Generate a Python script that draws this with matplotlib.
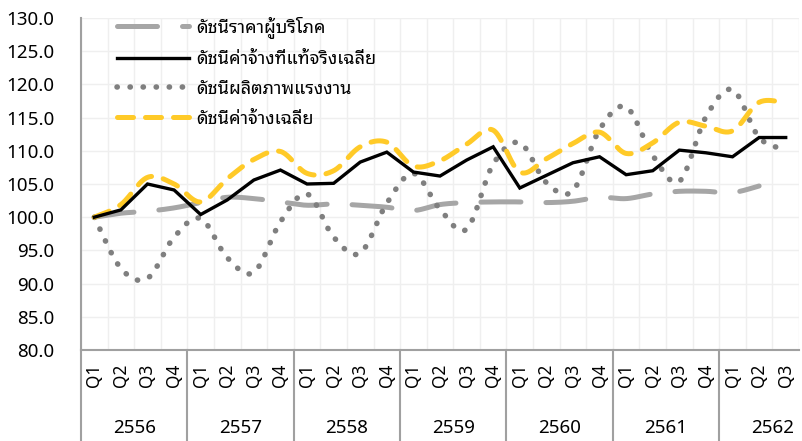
import numpy as np
import matplotlib
matplotlib.use("Agg")
import matplotlib.pyplot as plt
from matplotlib import font_manager
from matplotlib.ft2font import FT2Font
import matplotlib.transforms as mtransforms

# ---------------- data ----------------
years = ["2556", "2557", "2558", "2559", "2560", "2561", "2562"]
quarters = ["Q1", "Q2", "Q3", "Q4"] * 6 + ["Q1", "Q2", "Q3"]

cpi = [100.0, 100.6, 100.9, 101.4, 102.2, 103.0, 102.8, 102.3,
       101.8, 102.0, 101.8, 101.5, 101.0, 101.9, 102.2, 102.3,
       102.3, 102.2, 102.4, 103.0, 102.8, 103.5, 103.9, 103.9,
       103.7, 104.7]
real_wage = [100.0, 101.1, 105.0, 104.1, 100.4, 102.6, 105.6, 107.1,
             105.0, 105.1, 108.3, 109.8, 106.8, 106.2, 108.6, 110.6,
             104.4, 106.3, 108.2, 109.1, 106.4, 107.0, 110.1, 109.7,
             109.1, 112.0, 112.0]
productivity = [100.0, 92.3, 90.8, 97.0, 99.8, 93.9, 91.7, 99.3,
                103.5, 97.0, 94.6, 102.1, 106.6, 101.2, 98.2, 108.0,
                111.2, 105.2, 104.0, 113.2, 116.6, 109.3, 105.4, 115.1,
                119.2, 112.0, 110.2]
avg_wage = [100.0, 101.9, 106.0, 105.0, 102.3, 105.8, 108.7, 109.9,
            106.6, 107.0, 110.6, 111.3, 107.7, 108.5, 111.0, 113.1,
            106.8, 108.8, 111.1, 112.8, 109.6, 111.2, 114.3, 113.7,
            113.0, 117.3, 117.2]

labels = ["ดัชนีราคาผู้บริโภค", "ดัชนีค่าจ้างที่แท้จริงเฉลี่ย",
          "ดัชนีผลิตภาพแรงงาน", "ดัชนีค่าจ้างเฉลี่ย"]

yticks = [80, 85, 90, 95, 100, 105, 110, 115, 120, 125, 130]

# ---------------- fonts ----------------
def find_thai_font():
    prefs = ["Noto Sans Thai Looped", "Noto Sans Thai UI", "Noto Sans Thai",
             "Tahoma", "Leelawadee UI", "Loma", "Garuda", "Waree",
             "Umpush", "Sawasdee", "Kinnari", "Norasi", "Tlwg Typo"]
    found = {}
    seen = set()
    for f in font_manager.fontManager.ttflist:
        if f.fname in seen:
            continue
        seen.add(f.fname)
        try:
            cmap = FT2Font(f.fname).get_charmap()
        except Exception:
            continue
        if 0x0E14 in cmap and 0x0E35 in cmap and 0x0E49 in cmap:
            found.setdefault(f.name, f.fname)
    for p in prefs:
        if p in found:
            return p
    if found:
        return sorted(found)[0]
    return None

thai = find_thai_font()
fams = ([thai] if thai else []) + ["DejaVu Sans"]
plt.rcParams["font.family"] = fams

# ---------------- smoothing (Bezier like Excel smoothed lines) ----------------
def smooth(xs, ys, n=24):
    xs = np.asarray(xs, float)
    ys = np.asarray(ys, float)
    px = np.concatenate([[xs[0]], xs, [xs[-1]]])
    py = np.concatenate([[ys[0]], ys, [ys[-1]]])
    outx, outy = [], []
    t = np.linspace(0, 1, n, endpoint=False)
    for i in range(1, len(px) - 2):
        p0x, p1x, p2x, p3x = px[i - 1], px[i], px[i + 1], px[i + 2]
        p0y, p1y, p2y, p3y = py[i - 1], py[i], py[i + 1], py[i + 2]
        c1x = p1x + (p2x - p0x) / 6.0
        c1y = p1y + (p2y - p0y) / 6.0
        c2x = p2x - (p3x - p1x) / 6.0
        c2y = p2y - (p3y - p1y) / 6.0
        bx = ((1 - t) ** 3) * p1x + 3 * ((1 - t) ** 2) * t * c1x + 3 * (1 - t) * t ** 2 * c2x + t ** 3 * p2x
        by = ((1 - t) ** 3) * p1y + 3 * ((1 - t) ** 2) * t * c1y + 3 * (1 - t) * t ** 2 * c2y + t ** 3 * p2y
        outx.extend(bx)
        outy.extend(by)
    outx.append(xs[-1])
    outy.append(ys[-1])
    return np.array(outx), np.array(outy)

# ---------------- figure ----------------
W, H = 803, 441
fig = plt.figure(figsize=(W / 100, H / 100), dpi=100)
ax = fig.add_axes([81 / W, 1 - 350 / H, 718 / W, 332 / H])

n = len(quarters)
x = np.arange(n)

grey_line = "#A6A6A6"
dot_col = "#7F7F7F"
yellow = "#FFCA28"

sx, sy = smooth(np.arange(len(cpi)), cpi)
l1, = ax.plot(sx, sy, color=grey_line, lw=3.6, solid_capstyle="round",
              dash_capstyle="round", dashes=(8, 5), label=labels[0], zorder=3)
l2, = ax.plot(x, real_wage, color="black", lw=2.4, label=labels[1],
              solid_joinstyle="miter", zorder=5)
sx, sy = smooth(x, productivity)
l3, = ax.plot(sx, sy, color=dot_col, lw=4.0, dash_capstyle="round",
              dashes=(0.05, 2.3), label=labels[2], zorder=4)
sx, sy = smooth(x, avg_wage)
l4, = ax.plot(sx, sy, color=yellow, lw=3.6, dash_capstyle="round",
              dashes=(3.2, 2.4), label=labels[3], zorder=4)

ax.set_xlim(-0.5, n - 0.5)
ax.set_ylim(80, 130)
ax.set_yticks(yticks)
ax.set_yticklabels([f"{v:.1f}" for v in yticks])
ax.set_xticks(x)
ax.set_xticklabels(quarters, rotation=90)
ax.set_xticks(np.arange(-0.5, n, 1.0), minor=True)

ax.tick_params(axis="y", length=0, pad=19, labelsize=13.5, colors="#000000")
ax.tick_params(axis="x", which="major", length=0, pad=10, labelsize=12.5)
ax.tick_params(axis="x", which="minor", length=0)

ax.grid(True, axis="y", which="major", color="#EFEFEF", lw=1.0)
ax.grid(True, axis="x", which="minor", color="#EFEFEF", lw=1.0)
ax.set_axisbelow(True)

for s in ["top", "right"]:
    ax.spines[s].set_visible(False)
for s in ["left", "bottom"]:
    ax.spines[s].set_color("#A0A0A0")
    ax.spines[s].set_linewidth(1.5)

# group separators and year labels
trans = mtransforms.blended_transform_factory(ax.transData, ax.transAxes)
bottom_frac = -(H - 350 + 2) / 332
starts = [0, 4, 8, 12, 16, 20, 24]
for k, st in enumerate(starts):
    ax.plot([st - 0.5, st - 0.5], [0, bottom_frac], transform=trans,
            color="#A0A0A0", lw=1.5, clip_on=False, zorder=1)
    ax.text(st + 1.5, -(428 - 350) / 332, years[k], transform=trans,
            ha="center", va="center", fontsize=13.5)

leg = ax.legend(handles=[l1, l2, l3, l4], loc="upper left",
                bbox_to_anchor=((117 - 81) / 718, (350 - 16) / 332),
                frameon=False, fontsize=13, handlelength=4.0,
                handletextpad=0.4, labelspacing=0.66, borderpad=0,
                borderaxespad=0)

fig.savefig("out.png", dpi=100, facecolor="white")
